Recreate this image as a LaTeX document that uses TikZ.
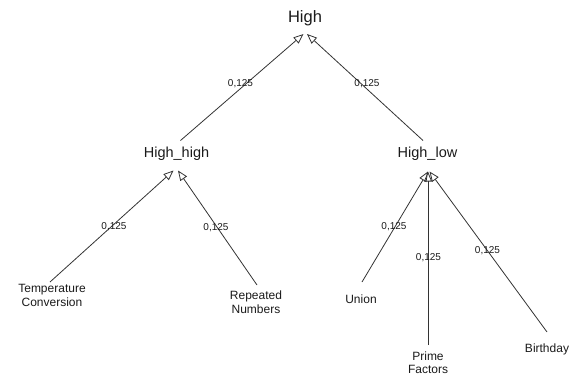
\documentclass[tikz,border=0pt]{standalone}
\usepackage{fontspec}
\setmainfont{Liberation Sans}
\usetikzlibrary{arrows.meta,calc}
\definecolor{txt}{HTML}{1A1A1A}
\definecolor{ln}{HTML}{333333}
\begin{document}
\begin{tikzpicture}[x=1pt,y=-1pt,
  rootnode/.style={inner sep=0pt,outer sep=0pt,text=txt,font=\fontsize{16.5}{19}\selectfont,anchor=base},
  midnode/.style={inner sep=0pt,outer sep=0pt,text=txt,font=\fontsize{14.5}{17}\selectfont,anchor=base},
  leafnode/.style={inner sep=0pt,outer sep=0pt,text=txt,font=\fontsize{12}{13.5}\selectfont,align=center,anchor=north},
  wlabel/.style={inner sep=0pt,text=txt,font=\fontsize{10}{12}\selectfont},
  conn/.style={draw=ln,line width=0.8pt,-{Triangle[open,length=10pt,width=8pt,line width=0.8pt]}}]
\useasboundingbox (0,0) rectangle (578,376);
% nodes
\node[rootnode] (high) at (305,22.7) {High};
\node[midnode] (hh) at (176.5,157.5) {High\_high};
\node[midnode] (hl) at (427.5,157.5) {High\_low};
\node[leafnode] (tc) at (52,284.5) {Temperature\\Conversion};
\node[leafnode] (rn) at (256,291) {Repeated\\Numbers};
\node[leafnode] (un) at (361,295) {Union};
\node[leafnode] (pf) at (428,351.5) {Prime\\Factors};
\node[leafnode] (bd) at (547,344) {Birthday};
% connectors
\draw[conn] ([shift={(4pt,17pt)}]hh.base) -- ([shift={(-1.5pt,-11.3pt)}]high.base);
\draw[conn] ([shift={(-4.5pt,17pt)}]hl.base) -- ([shift={(2pt,-11.3pt)}]high.base);
\draw[conn] ([shift={(-2pt,2.5pt)}]tc.north) -- ([shift={(-3pt,-13pt)}]hh.base);
\draw[conn] ([shift={(1pt,6pt)}]rn.north) -- ([shift={(1.5pt,-13pt)}]hh.base);
\draw[conn] ([shift={(1pt,13pt)}]un.north) -- ([shift={(0.5pt,-14pt)}]hl.base);
\draw[conn] ([shift={(0pt,6.5pt)}]pf.north) -- ([shift={(0.5pt,-14pt)}]hl.base);
\draw[conn] ([shift={(0pt,12pt)}]bd.north) -- ([shift={(2pt,-14pt)}]hl.base);
% labels
\node[wlabel] (l1) at (240.5,84) {0,125};
\node[wlabel] (l2) at (367,84) {0,125};
\node[wlabel] (l3) at (114,226.5) {0,125};
\node[wlabel] (l4) at (216,228) {0,125};
\node[wlabel] (l5) at (394,226.7) {0,125};
\node[wlabel] (l6) at (428.5,257.5) {0,125};
\node[wlabel] (l7) at (487.5,250.7) {0,125};
\end{tikzpicture}
\end{document}
